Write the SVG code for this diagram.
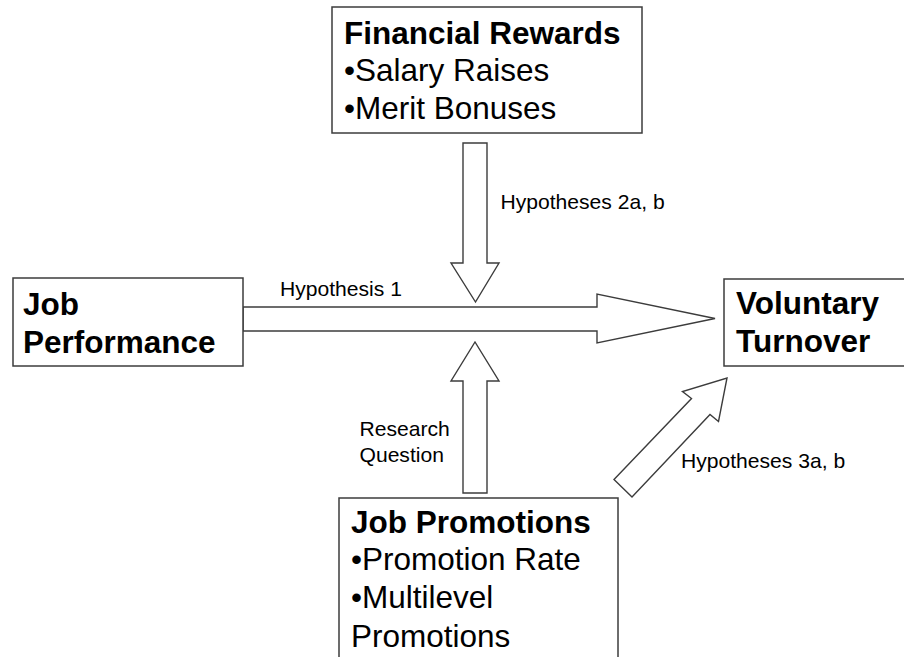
<svg xmlns="http://www.w3.org/2000/svg" width="904" height="657" viewBox="0 0 904 657">
  <style>
    .box { fill: #ffffff; stroke: #3c3c3c; stroke-width: 1.5; }
    .arrow { fill: #ffffff; stroke: #3c3c3c; stroke-width: 1.4; stroke-linejoin: miter; }
    .title { font-family: "Liberation Sans", Arial, sans-serif; font-size: 31.5px; font-weight: bold; fill: #000; }
    .item { font-family: "Liberation Sans", Arial, sans-serif; font-size: 31.5px; fill: #000; }
    .label { font-family: "Liberation Sans", Arial, sans-serif; font-size: 21.1px; fill: #000; }
  </style>
  <rect width="904" height="657" fill="#ffffff"/>

  <!-- block arrows -->
  <g id="connectors">
    <!-- Hypothesis 1: performance to turnover -->
    <polygon class="arrow" points="243,307 597,307 597,294 715,318.5 597,343 597,331 243,331"/>
    <!-- Hypotheses 2a, b: rewards moderate the main path -->
    <polygon class="arrow" points="463,143 487,143 487,263 499,263 475.5,302 451,263 463,263"/>
    <!-- Research question: promotions moderate the main path -->
    <polygon class="arrow" points="463,493 463,381 451,381 475,342 499,381 487,381 487,493"/>
    <!-- Hypotheses 3a, b: promotions to turnover -->
    <polygon class="arrow" points="614,479.5 691.5,398.5 682.5,391.5 727,378 718.5,421.5 710,414.5 632,497"/>
    <text class="label" x="280" y="296">Hypothesis 1</text>
    <text class="label" x="500.5" y="209">Hypotheses 2a, b</text>
    <text class="label" x="359.5" y="436">Research</text>
    <text class="label" x="359.5" y="462">Question</text>
    <text class="label" x="681" y="468">Hypotheses 3a, b</text>
  </g>

  <g id="financial-rewards">
    <rect class="box" x="332" y="7" width="310" height="126"/>
    <text class="title" x="344" y="43.5">Financial Rewards</text>
    <text class="item" x="344" y="81">•Salary Raises</text>
    <text class="item" x="344" y="118.5">•Merit Bonuses</text>
  </g>

  <g id="job-performance">
    <rect class="box" x="13" y="278" width="230" height="88"/>
    <text class="title" x="23" y="315">Job</text>
    <text class="title" x="23" y="353">Performance</text>
  </g>

  <g id="voluntary-turnover">
    <rect class="box" x="724" y="279" width="200" height="87"/>
    <text class="title" x="736" y="314">Voluntary</text>
    <text class="title" x="736" y="352">Turnover</text>
  </g>

  <g id="job-promotions">
    <rect class="box" x="339" y="498" width="279" height="180"/>
    <text class="title" x="351" y="533">Job Promotions</text>
    <text class="item" x="351" y="570">•Promotion Rate</text>
    <text class="item" x="351" y="608">•Multilevel</text>
    <text class="item" x="351" y="647">Promotions</text>
  </g>
</svg>
